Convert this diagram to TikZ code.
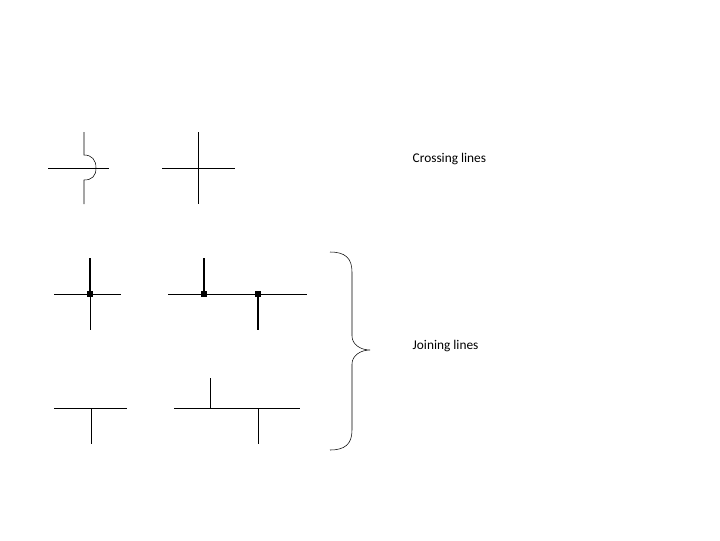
\documentclass[tikz,border=0pt]{standalone}
\usepackage{fontspec}
\setmainfont{Carlito}
\begin{document}
\begin{tikzpicture}[x=0.75pt,y=0.75pt,yscale=-1,xscale=1]
\useasboundingbox (0,0) rectangle (720,540);

% Crossing with hop
\draw    (84,132) -- (84,155) .. controls (92,155) and (96,160) .. (96,168) .. controls (96,176) and (92,180) .. (84,180) -- (84,204) ;
\draw    (48,168) -- (109,168) ;
% Plain crossing
\draw    (198,132) -- (198,204) ;
\draw    (162,168) -- (235,168) ;

% Joined crossing
\draw    (54,294) -- (121,294) ;
\draw [line width=1.5]   (90,258) -- (90,294) ;
\draw    (90,294) -- (90,330) ;
\fill    (87,291) rectangle (93,297) ;
% Two joined tees
\draw    (168,294) -- (307,294) ;
\draw [line width=1.5]   (204,258) -- (204,294) ;
\draw [line width=1.5]   (258,294) -- (258,330) ;
\fill    (201,291) rectangle (207,297) ;
\fill    (255,291) rectangle (261,297) ;

% Tee
\draw    (54,408) -- (127,408) ;
\draw    (91,408) -- (91,444) ;
% Staggered tees
\draw    (174,408) -- (300,408) ;
\draw    (210,378) -- (210,408) ;
\draw    (258,408) -- (258,444) ;

% Brace
\draw    (330,252) .. controls (345,252) and (352,258) .. (352,272) -- (352,336) .. controls (352,344) and (360,350) .. (370,350) .. controls (360,350) and (352,356) .. (352,364) -- (352,430) .. controls (352,444) and (345,450) .. (330,450) ;

% Text Node
\node (cross) [anchor=west] at (408,159) {Crossing lines};
% Text Node
\node (join) [anchor=west] at (408,346) {Joining lines};
\end{tikzpicture}
\end{document}
